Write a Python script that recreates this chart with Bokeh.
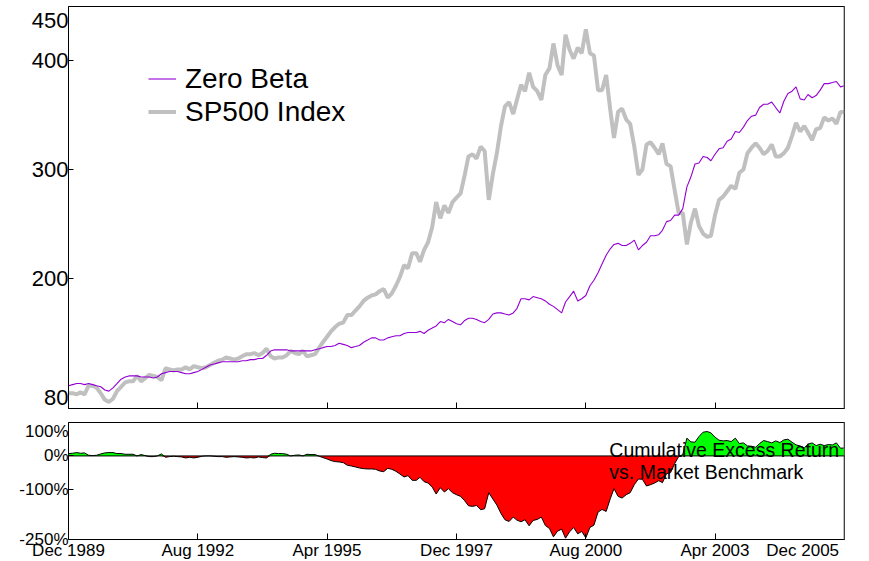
import numpy as np
import pandas as pd
from bokeh.plotting import figure
from bokeh.layouts import column
from bokeh.models import (Range1d, FixedTicker, DatetimeTickFormatter, PrintfTickFormatter,
                          Label, Span, Legend, LegendItem, ColumnDataSource, GlobalInlineStyleSheet)
from bokeh.embed import file_html
from bokeh.resources import INLINE

FONT = "Liberation Sans"

# ---------------- data (monthly, Dec 1989 .. Dec 2005) ----------------
start_month = "1989-12-01"
zero_beta = [
    101, 102, 103, 103, 102, 103, 102, 101, 100, 97,
    96, 99, 103, 107, 109, 110, 110, 110, 109, 109,
    109, 108, 109, 112, 113, 114, 114, 114, 113, 112,
    112, 113, 114, 116, 118, 120, 121, 122, 123, 123,
    123, 123, 123, 124, 124, 125, 125, 126, 126, 129,
    133, 134, 134, 134, 134, 133, 133, 133, 133, 133,
    133, 134, 135, 136, 137, 137, 138, 140, 139, 138,
    136, 137, 138, 141, 143, 145, 145, 143, 143, 145,
    146, 147, 147, 149, 150, 150, 150, 151, 149, 152,
    154, 156, 160, 159, 162, 160, 158, 157, 161, 163,
    163, 162, 160, 159, 162, 167, 168, 168, 167, 166,
    168, 172, 181, 181, 180, 183, 182, 181, 179, 176,
    174, 171, 168, 178, 183, 188, 179, 181, 184, 193,
    198, 205, 213, 221, 227, 231, 232, 230, 230, 232,
    235, 226, 230, 233, 239, 239, 240, 244, 252, 253,
    258, 258, 264, 284, 293, 305, 306, 312, 311, 308,
    314, 319, 320, 326, 328, 335, 334, 339, 345, 349,
    350, 357, 360, 360, 362, 357, 352, 363, 370, 372,
    376, 365, 364, 369, 366, 368, 373, 379, 379, 380,
    381, 376, 377,
]
sp500 = [
    94, 94, 93, 95, 93, 101, 101, 99, 94, 88,
    86, 89, 96, 100, 104, 105, 105, 110, 105, 108,
    111, 110, 109, 106, 117, 116, 115, 116, 116, 118,
    116, 119, 118, 117, 118, 120, 122, 124, 125, 127,
    126, 125, 126, 128, 130, 130, 131, 129, 131, 135,
    128, 126, 127, 127, 129, 133, 131, 130, 133, 128,
    129, 130, 136, 141, 146, 151, 155, 158, 159, 166,
    166, 170, 174, 179, 182, 184, 185, 188, 190, 182,
    186, 193, 201, 212, 209, 223, 223, 215, 226, 233,
    247, 270, 255, 267, 260, 270, 274, 278, 295, 312,
    314, 310, 321, 317, 272, 296, 315, 340, 358, 362,
    351, 364, 378, 372, 389, 376, 372, 364, 387, 393,
    416, 396, 387, 424, 410, 402, 412, 407, 429, 407,
    405, 373, 373, 387, 355, 329, 353, 356, 346, 342,
    321, 295, 300, 323, 325, 320, 314, 324, 305, 303,
    281, 260, 260, 231, 251, 264, 248, 241, 238, 239,
    258, 272, 275, 280, 285, 282, 297, 300, 315, 320,
    324, 320, 314, 317, 323, 312, 312, 315, 320, 331,
    343, 335, 340, 334, 327, 337, 338, 348, 345, 347,
    342, 353, 353,
]
x_tick_dates = ["1989-12-01", "1992-08-01", "1995-04-01", "1997-12-01", "2000-08-01", "2003-04-01"]
x_last_label = "Dec 2005"
top_ticks = [200, 300, 400]
top_edge_labels = ["80", "450"]
bottom_ticks = [0, -100, -250]
bottom_top_label = "100%"
legend_labels = ["Zero Beta", "SP500 Index"]
note_lines = ["Cumulative Excess Return", "vs. Market Benchmark"]

dates = pd.date_range(start_month, periods=len(zero_beta), freq="MS")
zb = np.array(zero_beta, dtype=float)
sp = np.array(sp500, dtype=float)
excess = zb - sp

src = ColumnDataSource(dict(
    date=dates, zb=zb, sp=sp, ex=excess,
    pos=np.maximum(excess, 0), neg=np.minimum(excess, 0), zero=np.zeros(len(excess)),
))

def ms(d):
    return int(pd.Timestamp(d).value // 1_000_000)

x0, x1 = ms(dates[0]), ms(dates[-1])
xr = Range1d(x0, x1)
tick_ms = [ms(d) for d in x_tick_dates]
fmt_all = "%b %Y"
dt_fmt = DatetimeTickFormatter(microseconds=fmt_all, milliseconds=fmt_all, seconds=fmt_all,
                               minsec=fmt_all, minutes=fmt_all, hourmin=fmt_all, hours=fmt_all,
                               days=fmt_all, months=fmt_all, years=fmt_all)

W = 869
common = dict(width=W, x_axis_type="datetime", x_range=xr, output_backend="svg",
              toolbar_location=None, min_border_left=68, min_border_right=W - 68 - 776,
              background_fill_color="white", border_fill_color="white")

def style(p, yfont):
    p.grid.visible = False
    p.outline_line_color = "black"
    p.outline_line_width = 1
    for ax in (p.xaxis[0], p.yaxis[0]):
        ax.axis_line_color = "black"
        ax.major_tick_line_color = None
        ax.major_tick_out = 0
        ax.major_tick_in = 0
        ax.minor_tick_line_color = "black"
        ax.minor_tick_out = 0
        ax.minor_tick_in = 5
        ax.major_label_text_font = FONT
        ax.major_label_text_color = "black"
        ax.major_label_standoff = 0
    p.xaxis[0].minor_tick_in = 6
    p.yaxis[0].major_label_text_font_size = yfont
    p.add_layout(Span(location=x1, dimension="height", line_color="#808080", line_width=2))

# ---------------- top panel ----------------
top = figure(height=416, y_range=Range1d(80, 450), min_border_top=6, min_border_bottom=8, **common)
style(top, "22px")
top.yaxis[0].ticker = FixedTicker(ticks=[90] + top_ticks + [437], minor_ticks=top_ticks)
top.yaxis[0].major_label_overrides = {90: top_edge_labels[0], 437: top_edge_labels[1]}
top.xaxis[0].ticker = FixedTicker(ticks=[], minor_ticks=tick_ms[1:])

r_sp = top.line("date", "sp", source=src, line_color="#C0C0C0", line_width=4)
r_zb = top.line("date", "zb", source=src, line_color="#9400D3", line_width=1.1)

legend = Legend(items=[LegendItem(label=legend_labels[0], renderers=[r_zb]),
                       LegendItem(label=legend_labels[1], renderers=[r_sp])],
                location=(80, 280), border_line_color=None, background_fill_alpha=0,
                padding=0, margin=0, spacing=0, glyph_width=28, glyph_height=33,
                label_height=33, label_standoff=9, label_text_font=FONT,
                label_text_font_size="28px", label_text_color="black")
top.add_layout(legend)

# ---------------- bottom panel ----------------
bot = figure(height=150, y_range=Range1d(-250, 100), min_border_top=6, min_border_bottom=27, **common)
style(bot, "17px")
bot.yaxis[0].ticker = FixedTicker(ticks=[73] + bottom_ticks, minor_ticks=bottom_ticks[:2])
bot.yaxis[0].formatter = PrintfTickFormatter(format="%d%%")
bot.yaxis[0].major_label_overrides = {73: bottom_top_label}
last_pos = ms("2005-01-20")
bot.xaxis[0].ticker = FixedTicker(ticks=tick_ms + [last_pos], minor_ticks=tick_ms[1:])
bot.xaxis[0].formatter = dt_fmt
bot.xaxis[0].major_label_overrides = {last_pos: x_last_label}
bot.xaxis[0].major_label_text_font_size = "17px"
bot.xaxis[0].major_label_standoff = 1

bot.varea(x="date", y1="zero", y2="neg", source=src, fill_color="#FF0000")
bot.varea(x="date", y1="zero", y2="pos", source=src, fill_color="#00FF00")
bot.line("date", "ex", source=src, line_color="black", line_width=1)
bot.add_layout(Span(location=0, dimension="width", line_color="black", line_width=1))

note_x = ms("2001-01-25")
for yv, line in zip([19, -47], note_lines):
    bot.add_layout(Label(x=note_x, y=yv, text=line, text_align="left", text_baseline="middle",
                         text_font=FONT, text_font_size="19.5px", text_color="black"))

layout = column(top, bot, spacing=0,
                stylesheets=[GlobalInlineStyleSheet(css="html, body { overflow: hidden; }")])

open("out.html", "w").write(file_html(layout, INLINE))
